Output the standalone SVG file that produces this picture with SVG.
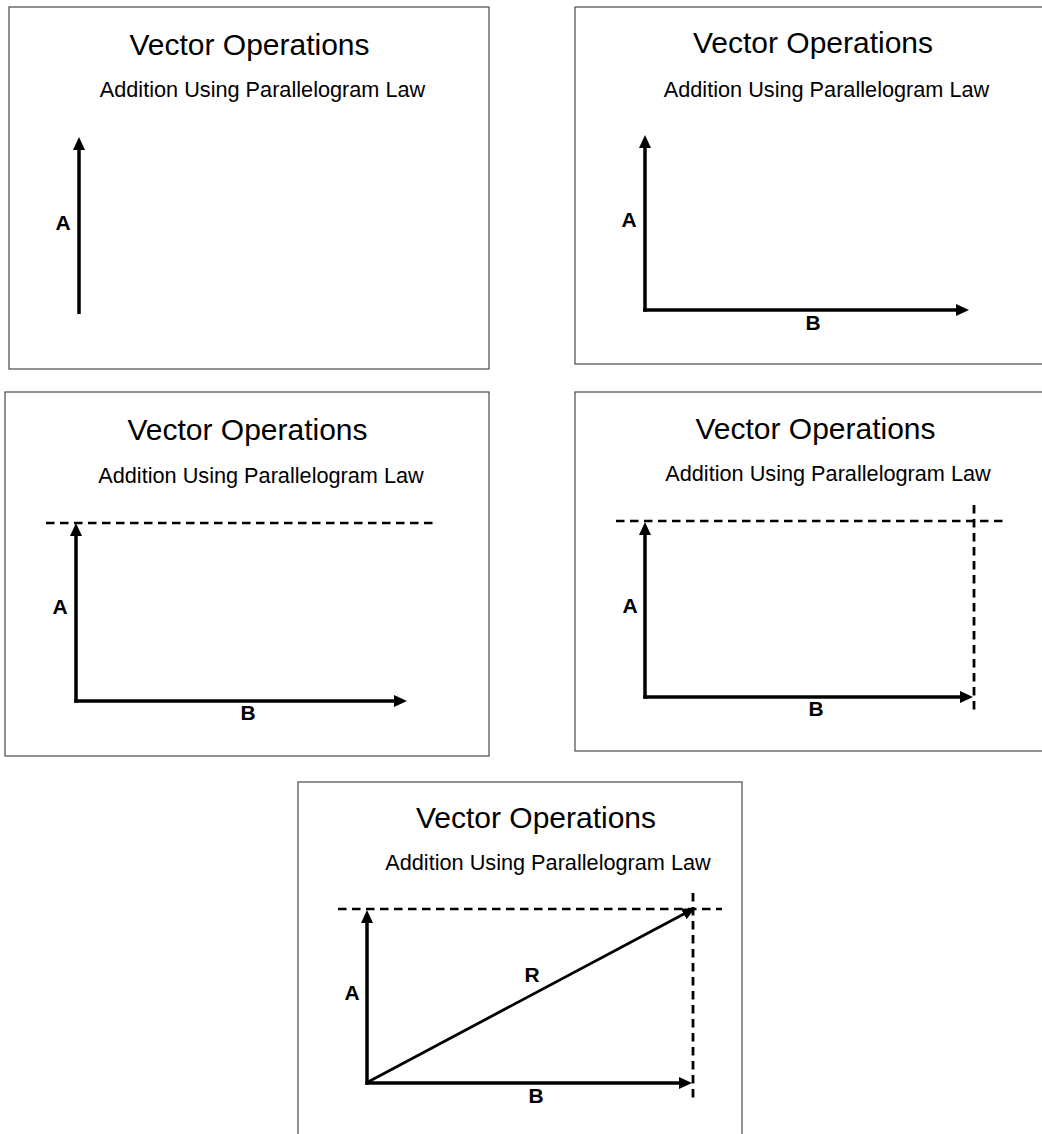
<svg xmlns="http://www.w3.org/2000/svg" width="1042" height="1134" viewBox="0 0 1042 1134">
<style>
.frame{fill:#fff;stroke:#4a4a4a;stroke-width:1.2}
.title{font-family:"Liberation Sans",Arial,sans-serif;font-size:30px;fill:#000;text-anchor:middle}
.sub{font-family:"Liberation Sans",Arial,sans-serif;font-size:21.7px;fill:#000;text-anchor:middle}
.lbl{font-family:"Liberation Sans",Arial,sans-serif;font-size:21px;font-weight:bold;fill:#000;text-anchor:middle}
.vec{stroke:#000;stroke-width:3.5;fill:none;marker-end:url(#ah)}
.res{stroke:#000;stroke-width:2.8;fill:none;marker-end:url(#ah)}
.dash{stroke:#000;stroke-width:2.3;stroke-dasharray:8.5 5.5;fill:none}
.dashv{stroke:#000;stroke-width:2.8;stroke-dasharray:8.5 5.5;fill:none}
</style>
<defs>
<marker id="ah" viewBox="0 0 13 12" refX="6" refY="6" markerWidth="13" markerHeight="12" markerUnits="userSpaceOnUse" orient="auto">
<path d="M0,0 L13,6 L0,12 Z" fill="#000"/>
</marker>
</defs>
<rect width="1042" height="1134" fill="#fff"/>

<g id="panel1">
<rect class="frame" x="9" y="7" width="480" height="362"/>
<text class="title" x="249.5" y="55">Vector Operations</text>
<text class="sub" x="262.5" y="97">Addition Using Parallelogram Law</text>
</g>
<g id="panel2">
<rect class="frame" x="575" y="7" width="480" height="357"/>
<text class="title" x="813" y="53">Vector Operations</text>
<text class="sub" x="826.5" y="97">Addition Using Parallelogram Law</text>
</g>
<g id="panel3">
<rect class="frame" x="5" y="392" width="484" height="364"/>
<text class="title" x="247.5" y="440">Vector Operations</text>
<text class="sub" x="261" y="483">Addition Using Parallelogram Law</text>
</g>
<g id="panel4">
<rect class="frame" x="575" y="392" width="480" height="359"/>
<text class="title" x="815.5" y="439">Vector Operations</text>
<text class="sub" x="828" y="481">Addition Using Parallelogram Law</text>
</g>
<g id="panel5">
<rect class="frame" x="298" y="782" width="444" height="360"/>
<text class="title" x="536" y="828">Vector Operations</text>
<text class="sub" x="548" y="870">Addition Using Parallelogram Law</text>
</g>

<g id="connectors">
<!-- panel 1 -->
<line class="vec" x1="79" y1="314" x2="79" y2="144"/>
<!-- panel 2 -->
<line class="vec" x1="645" y1="311.75" x2="645" y2="142"/>
<line class="vec" x1="643.25" y1="310" x2="962" y2="310"/>
<!-- panel 3 -->
<line class="dash" x1="46" y1="523" x2="438" y2="523"/>
<line class="vec" x1="76" y1="702.75" x2="76" y2="530"/>
<line class="vec" x1="74.25" y1="701" x2="400" y2="701"/>
<!-- panel 4 -->
<line class="dash" x1="616" y1="521" x2="1003" y2="521"/>
<line class="dashv" x1="974" y1="505" x2="974" y2="712"/>
<line class="vec" x1="645" y1="698.75" x2="645" y2="529"/>
<line class="vec" x1="643.25" y1="697" x2="966" y2="697"/>
<!-- panel 5 -->
<line class="dash" x1="338" y1="909" x2="722" y2="909"/>
<line class="dashv" x1="693" y1="893" x2="693" y2="1098"/>
<line class="vec" x1="367" y1="1084.75" x2="367" y2="917"/>
<line class="vec" x1="365.25" y1="1083" x2="685" y2="1083"/>
<line class="res" x1="368" y1="1082" x2="689" y2="911.2"/>
</g>

<g id="labels">
<text class="lbl" x="63" y="230">A</text>
<text class="lbl" x="629" y="227">A</text>
<text class="lbl" x="813" y="330">B</text>
<text class="lbl" x="60" y="614">A</text>
<text class="lbl" x="248" y="720">B</text>
<text class="lbl" x="630" y="613">A</text>
<text class="lbl" x="816" y="716">B</text>
<text class="lbl" x="352" y="1000">A</text>
<text class="lbl" x="536" y="1103">B</text>
<text class="lbl" x="532" y="982">R</text>
</g>
</svg>
